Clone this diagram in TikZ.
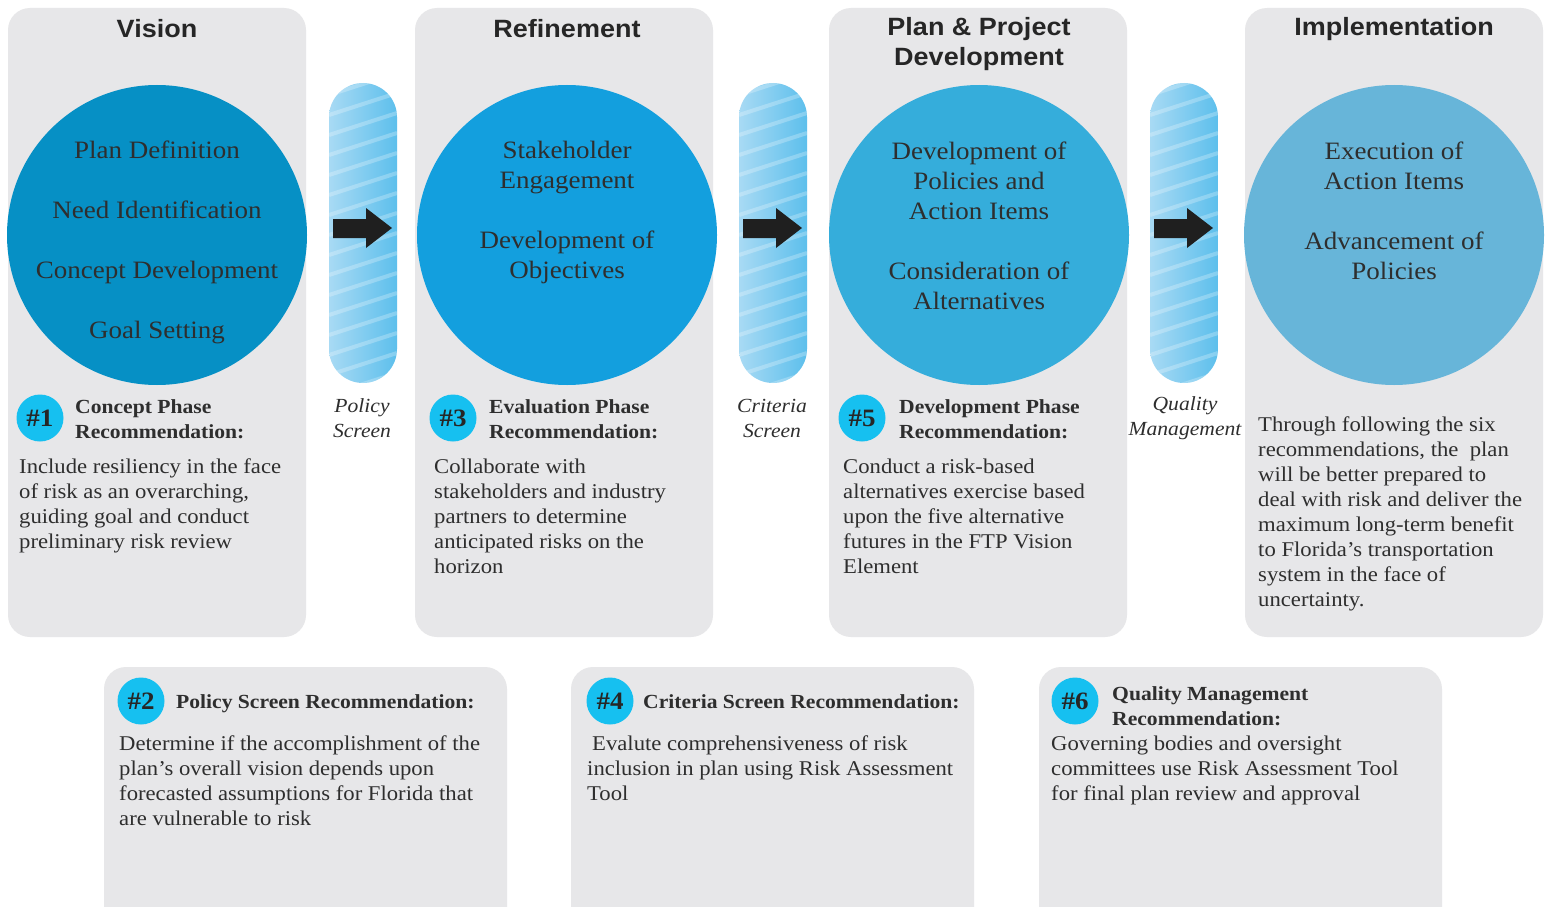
\documentclass[tikz,border=0pt]{standalone}
\usepackage{fontspec}
\setmainfont{Liberation Serif}[FakeStretch = 1.08]
\newfontfamily\phasefont{Liberation Sans}[FakeStretch = 1.08]
\definecolor{panelgray}{HTML}{E7E7E9}
\definecolor{visionblue}{HTML}{0690C5}
\definecolor{refineblue}{HTML}{139FDE}
\definecolor{planblue}{HTML}{35ADDB}
\definecolor{implblue}{HTML}{67B5D9}
\definecolor{badgecyan}{HTML}{16C0F0}
\definecolor{barleft}{HTML}{A8DAF4}
\definecolor{barright}{HTML}{5DBFEC}
\definecolor{inktext}{HTML}{2E2E2E}
\tikzset{
  panel/.style = {fill = panelgray, rounded corners = 22pt},
  phase/.style = {font = \phasefont\bfseries\fontsize{25}{30}\selectfont,
                  align = center, text = black!85, inner sep = 0pt},
  stage/.style = {circle, minimum size = 300pt, inner sep = 0pt},
  incircle/.style = {font = \fontsize{25}{30}\selectfont, align = center,
                     text = inktext, inner sep = 0pt},
  bodytext/.style = {font = \fontsize{21}{25}\selectfont, align = left,
                     text = inktext, anchor = north west, inner sep = 0pt,
                     execute at begin node = \strut},
  rechead/.style = {font = \bfseries\fontsize{20}{25}\selectfont, align = left,
                    text = inktext, anchor = north west, inner sep = 0pt,
                    execute at begin node = \strut},
  badge/.style = {circle, fill = badgecyan, minimum size = 47pt, inner sep = 0pt,
                  font = \bfseries\fontsize{25}{25}\selectfont, text = black!85},
  screenlabel/.style = {font = \itshape\fontsize{20}{25}\selectfont,
                        align = center, text = inktext, inner sep = 0pt}
}
\begin{document}
\begin{tikzpicture}[x = 1pt, y = -1pt]
  \useasboundingbox (0,0) rectangle (1548,907);
  \clip (0,0) rectangle (1548,907);
  \fill [white] (0,0) rectangle (1548,907);

  % phase panels
  \foreach \px in {8, 415, 829, 1245}
    \fill [panel] (\px,8) rectangle ++(298,629);
  \foreach \px in {104, 571, 1039}
    \fill [panel] (\px,667) rectangle ++(403,280);

  \node [phase] (vision title) at (157,29) {Vision};
  \node [phase] (refine title) at (567,29) {Refinement};
  \node [phase] (plan title) at (979,44) {Plan \& Project\\Development};
  \node [phase] (impl title) at (1394,29) {Implementation};

  \node [stage, fill = visionblue] (vision) at (157,235) {};
  \node [stage, fill = refineblue] (refine) at (567,235) {};
  \node [stage, fill = planblue] (plan) at (979,235) {};
  \node [stage, fill = implblue] (impl) at (1394,235) {};

  \node [incircle] (vision items) at (157,242)
    {Plan Definition\\[30pt]Need Identification\\[30pt]Concept Development\\[30pt]Goal Setting};
  \node [incircle] (refine items) at (567,212)
    {Stakeholder\\Engagement\\[30pt]Development of\\Objectives};
  \node [incircle] (plan items) at (979,226)
    {Development of\\Policies and\\Action Items\\[30pt]Consideration of\\Alternatives};
  \node [incircle] (impl items) at (1394,211)
    {Execution of\\Action Items\\[30pt]Advancement of\\Policies};

  % screens between the phases
  \foreach \bx in {329, 739, 1150} {
    \begin{scope}
      \clip [rounded corners = 34pt] (\bx,83) rectangle ++(68,300);
      \shade [left color = barleft, right color = barright] (\bx,83) rectangle ++(68,300);
      \foreach \sy in {95, 115, ..., 415}
        \draw [white, opacity = .25, line width = 4pt] (\bx,\sy) -- ++(68,-22);
    \end{scope}
    \fill [black!88] (\bx+4,219) -- ++(33,0) -- ++(0,-11) -- (\bx+63,228)
      -- (\bx+37,248) -- ++(0,-10) -- (\bx+4,238) -- cycle;
  }
  \node [screenlabel] (policy screen) at (362,418) {Policy\\Screen};
  \node [screenlabel] (criteria screen) at (772,418) {Criteria\\Screen};
  \node [screenlabel] (quality screen) at (1185,418) {Quality\\Management};

  % recommendations
  \node [badge] (rec1) at (40,418) {\#1};
  \node [rechead] (rec1 head) at (75,399.5) {Concept Phase\\Recommendation:};
  \node [bodytext] (rec1 text) at (19,458.5)
    {Include resiliency in the face\\of risk as an overarching,\\guiding goal and conduct\\preliminary risk review};

  \node [badge] (rec3) at (453,418) {\#3};
  \node [rechead] (rec3 head) at (489,399.5) {Evaluation Phase\\Recommendation:};
  \node [bodytext] (rec3 text) at (434,458.5)
    {Collaborate with\\stakeholders and industry\\partners to determine\\anticipated risks on the\\horizon};

  \node [badge] (rec5) at (862,418) {\#5};
  \node [rechead] (rec5 head) at (899,399.5) {Development Phase\\Recommendation:};
  \node [bodytext] (rec5 text) at (843,458.5)
    {Conduct a risk-based\\alternatives exercise based\\upon the five alternative\\futures in the FTP Vision\\Element};

  \node [bodytext] (impl text) at (1258,416.5)
    {Through following the six\\recommendations, the\ \ plan\\will be better prepared to\\deal with risk and deliver the\\maximum long-term benefit\\to Florida’s transportation\\system in the face of\\uncertainty.};

  \node [badge] (rec2) at (141,701) {\#2};
  \node [rechead] (rec2 head) at (176,690.5) {Policy Screen Recommendation:};
  \node [bodytext] (rec2 text) at (119,735.5)
    {Determine if the accomplishment of the\\plan’s overall vision depends upon\\forecasted assumptions for Florida that\\are vulnerable to risk};

  \node [badge] (rec4) at (610,701) {\#4};
  \node [rechead] (rec4 head) at (643,690.5) {Criteria Screen Recommendation:};
  \node [bodytext] (rec4 text) at (587,735.5)
    {\hspace{5pt}Evalute comprehensiveness of risk\\inclusion in plan using Risk Assessment\\Tool};

  \node [badge] (rec6) at (1075,701) {\#6};
  \node [rechead] (rec6 head) at (1112,686.5) {Quality Management\\Recommendation:};
  \node [bodytext] (rec6 text) at (1051,735.5)
    {Governing bodies and oversight\\committees use Risk Assessment Tool\\for final plan review and approval};
\end{tikzpicture}
\end{document}
